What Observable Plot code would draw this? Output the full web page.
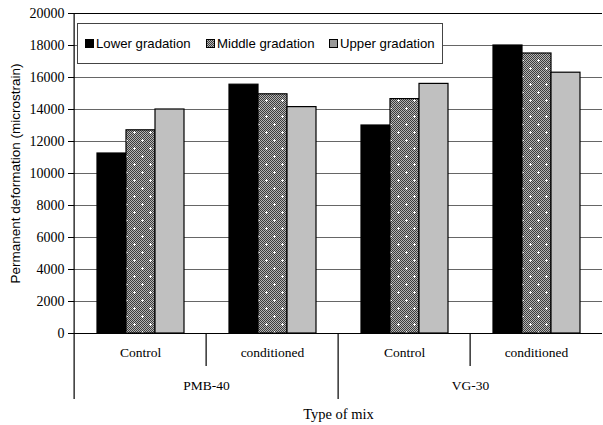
<!DOCTYPE html>
<html>
<head>
<meta charset="utf-8">
<script src="https://cdn.jsdelivr.net/npm/d3@7"></script>
<script src="https://cdn.jsdelivr.net/npm/@observablehq/plot@0.6"></script>
<style>
  body { margin: 0; background: #fff; }
  #wrap { position: relative; width: 603px; height: 425px; overflow: hidden; background: #fff; }
  #legend { position: absolute; left: 77px; top: 23px; width: 366px; height: 41px; box-sizing: border-box;
            border: 1px solid #444; background: #fff; font-family: "Liberation Sans", Arial, sans-serif;
            font-size: 13.2px; color: #000; }
  #legend .sw { position: absolute; top: 15px; width: 9px; height: 9px; box-sizing: border-box; border: 1px solid #000; }
  #legend .lb { position: absolute; top: 12px; line-height: 15px; white-space: nowrap; }
</style>
</head>
<body>
<div id="wrap"></div>
<script>
// ---- data ----
const mixes = ["PMB-40", "VG-30"];
const conditions = ["Control", "conditioned"];
const series = ["Lower gradation", "Middle gradation", "Upper gradation"];
// order: PMB-40 Control, PMB-40 conditioned, VG-30 Control, VG-30 conditioned
const lowerValues  = [11250, 15550, 13000, 18000];
const middleValues = [12700, 14950, 14650, 17500];
const upperValues  = [14000, 14150, 15600, 16300];
const yTicks = [0, 2000, 4000, 6000, 8000, 10000, 12000, 14000, 16000, 18000, 20000];
const yTitle = "Permanent deformation (microstrain)";
const xTitle = "Type of mix";

// ---- build tables ----
const groups = mixes.flatMap(m => conditions.map(c => ({mix: m, cond: c, key: m + "|" + c})));
const keys = groups.map(g => g.key);
const valueSets = [lowerValues, middleValues, upperValues];
const rows = [];
groups.forEach((g, i) => series.forEach((s, j) => rows.push({key: g.key, series: s, value: valueSets[j][i]})));

const W = 603, H = 425, ML = 72, MR = 0, MT = 13, MB = 92;
const plotH = H - MT - MB;
const serif = "'Liberation Serif', 'Times New Roman', serif";

const svg = Plot.plot({
  width: W, height: H,
  marginLeft: ML, marginRight: MR, marginTop: MT, marginBottom: MB,
  style: {fontFamily: serif, fontSize: "13px", color: "#000", background: "#fff"},
  fx: {domain: keys, padding: 0, axis: null, label: null},
  x: {domain: series, paddingInner: 0, paddingOuter: 0.71, axis: null, label: null},
  y: {domain: [0, 20000], ticks: yTicks, tickSize: 6, tickPadding: 4, label: null, tickFormat: () => ""},
  color: {domain: series, range: ["#000000", "url(#midpat)", "#c0c0c0"]},
  marks: [
    Plot.ruleY(yTicks.filter(t => t > 0 && t < 20000), {stroke: "#666", strokeWidth: 1.2}),
    Plot.ruleY([20000], {stroke: "#000", strokeWidth: 1.2}),
    Plot.barY(rows, {fx: "key", x: "series", y: "value", fill: "series", stroke: "#000", strokeWidth: 1.2}),
    Plot.ruleY([0], {stroke: "#000", strokeWidth: 1.2}),
    // y tick labels
    Plot.text(yTicks, {fx: () => keys[0], y: d => d, text: d => String(d), frameAnchor: "left", textAnchor: "end", dx: -10, fontSize: 14, fontFamily: serif}),
    // left axis line (extends under the category labels)
    Plot.ruleX(groups.filter(g => g.key === keys[0]), {fx: "key", x: null, dx: -(W - ML - MR) / 8, insetBottom: -66, stroke: "#000", strokeWidth: 1.2}),
    // mix boundary separators
    Plot.ruleX(groups.filter(g => g.cond === conditions[0] && g.key !== keys[0]), {fx: "key", x: null, dx: -(W - ML - MR) / 8, insetTop: plotH, insetBottom: -66, stroke: "#000", strokeWidth: 1.2}),
    // condition separators
    Plot.ruleX(groups.filter(g => g.cond !== conditions[0]), {fx: "key", x: null, dx: -(W - ML - MR) / 8, insetTop: plotH, insetBottom: -33, stroke: "#000", strokeWidth: 1.2}),
    // condition labels
    Plot.text(groups, {fx: "key", text: "cond", frameAnchor: "bottom", dy: 23, fontSize: 13.5, fontFamily: serif}),
    // mix labels (centered on the boundary between their two conditions)
    Plot.text(groups.filter(g => g.cond === conditions[1]), {fx: "key", text: "mix", frameAnchor: "bottom-left", textAnchor: "middle", dy: 56, fontSize: 13.5, fontFamily: serif}),
    // x title
    Plot.text([xTitle], {fx: () => keys[mixes.length * conditions.length / 2], text: d => d, frameAnchor: "bottom-left", textAnchor: "middle", dy: 85, fontSize: 14.5, fontFamily: serif}),
    // y title
    Plot.text([yTitle], {fx: () => keys[0], text: d => d, frameAnchor: "left", textAnchor: "middle", rotate: -90, dx: -59, fontSize: 13.5, fontFamily: "'Liberation Sans', Arial, sans-serif"})
  ]
});

// pattern for the middle gradation
const defs = d3.select(svg).insert("defs", ":first-child");
const chk = defs.append("pattern").attr("id", "chk").attr("patternUnits", "userSpaceOnUse").attr("width", 2).attr("height", 2);
chk.append("rect").attr("width", 2).attr("height", 2).attr("fill", "#b4b4b4");
chk.append("rect").attr("width", 1).attr("height", 1).attr("fill", "#3c3c3c");
chk.append("rect").attr("x", 1).attr("y", 1).attr("width", 1).attr("height", 1).attr("fill", "#3c3c3c");
const pat = defs.append("pattern").attr("id", "midpat").attr("patternUnits", "userSpaceOnUse").attr("width", 16).attr("height", 16);
pat.append("rect").attr("width", 16).attr("height", 16).attr("fill", "url(#chk)");
for (const [cx, cy] of [[4, 4], [12, 12]]) {
  pat.append("rect").attr("x", cx - 1).attr("y", cy).attr("width", 3).attr("height", 1).attr("fill", "#fff");
  pat.append("rect").attr("x", cx).attr("y", cy - 1).attr("width", 1).attr("height", 3).attr("fill", "#fff");
}

const wrap = document.getElementById("wrap");
wrap.appendChild(svg);

// legend
const legend = document.createElement("div");
legend.id = "legend";
const swFill = ["#000", "repeating-conic-gradient(#3c3c3c 0 25%, #b4b4b4 0 50%) 0 0 / 2px 2px", "#999"];
const swLeft = [7, 128, 251];
series.forEach((s, i) => {
  const sw = document.createElement("div");
  sw.className = "sw";
  sw.style.left = swLeft[i] + "px";
  sw.style.background = swFill[i];
  const lb = document.createElement("div");
  lb.className = "lb";
  lb.style.left = (swLeft[i] + 11) + "px";
  lb.textContent = s;
  legend.appendChild(sw);
  legend.appendChild(lb);
});
wrap.appendChild(legend);
</script>
</body>
</html>
